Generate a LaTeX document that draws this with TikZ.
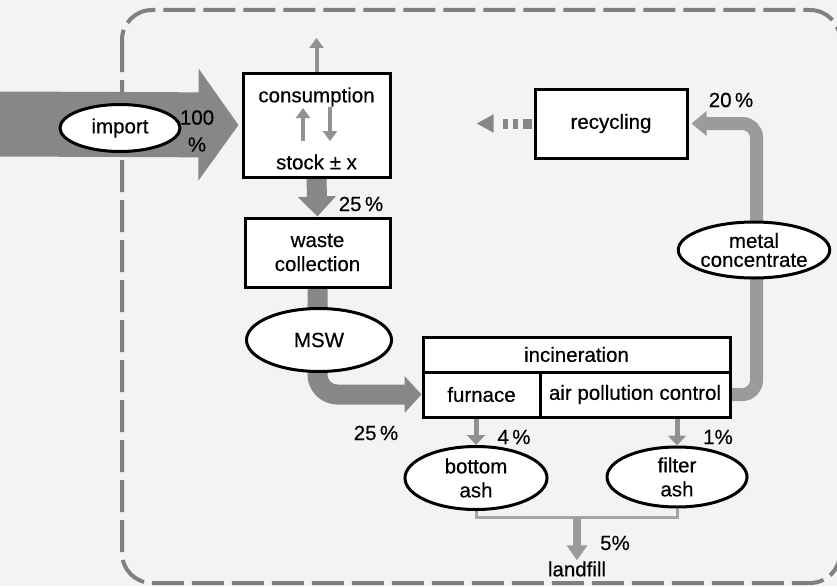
\documentclass[tikz,border=0pt]{standalone}
\usepackage{fontspec}
\setmainfont[FakeBold=0.4]{Liberation Sans}
\usetikzlibrary{shapes.geometric,arrows.meta,backgrounds,calc}
\definecolor{cBg}{RGB}{243,243,243}
\definecolor{cFlow}{RGB}{135,135,135}
\definecolor{cFlowLight}{RGB}{155,155,155}
\definecolor{cThin}{RGB}{145,145,145}
\definecolor{cAsh}{RGB}{165,165,165}
\definecolor{cBorder}{RGB}{128,128,128}
\begin{document}
\begin{tikzpicture}[x=1pt,y=-1pt,
  font=\fontsize{20.5}{24}\selectfont,
  box/.style={draw=black, line width=3pt, fill=white, inner sep=0pt, align=center},
  oval/.style={ellipse, draw=black, line width=3pt, fill=white, inner sep=0pt, align=center},
  lbl/.style={inner sep=1pt, align=center},
  sysborder/.style={draw=cBorder, line width=4pt, dash pattern=on 32pt off 8pt, rounded corners=30pt},
  bigflow/.style={draw=cFlow, line width=20pt},
  loopflow/.style={draw=cFlowLight, line width=13pt, rounded corners=14pt, -{Triangle[width=24pt,length=15pt]}},
  smallarrow/.style={draw=cThin, line width=4pt, -{Triangle[width=14pt,length=10pt]}},
  medarrow/.style={draw=cThin, line width=5pt, -{Triangle[width=18pt,length=10pt]}},
  ashline/.style={draw=cAsh, line width=3pt},
  fillarrow/.style={draw=cFlowLight, line width=8pt, -{Triangle[width=20pt,length=15pt]}},
  dashflow/.style={draw=cFlow, line width=10pt, dash pattern=on 9pt off 5pt on 5pt off 5pt on 5pt off 20pt, -{Triangle[width=17pt,length=17pt]}}
]
\useasboundingbox (0,0) rectangle (837,586);

% nodes
\node[box, minimum width=147pt, minimum height=104pt] (cons) at (316.5,125) {};
\node[lbl] (constxt) at (316.5,97) {consumption};
\node[lbl] (stock) at (316.5,162) {stock ± x};
\node[box, minimum width=145pt, minimum height=69pt] (waste) at (317.5,252.5) {waste\\collection};
\node[oval, minimum width=145pt, minimum height=63pt] (msw) at (319,340) {MSW};
\node[box, minimum width=307pt, minimum height=35pt] (inc) at (576.5,354.5) {incineration};
\node[box, minimum width=117pt, minimum height=45pt] (furn) at (481.5,394.5) {furnace};
\node[box, minimum width=190pt, minimum height=45pt] (apc) at (635,394.5) {air pollution control};
\node[box, minimum width=152pt, minimum height=69pt] (rec) at (611,123.5) {recycling};
\node[oval, minimum width=147pt, minimum height=56pt] (metal) at (754,250) {metal\\[-5pt]concentrate};
\node[oval, minimum width=142pt, minimum height=63pt] (bash) at (476,478) {bottom\\ash};
\node[oval, minimum width=140pt, minimum height=60pt] (fash) at (677,477) {filter\\ash};
\node[oval, minimum width=120pt, minimum height=47pt] (import) at (120,128) {import};
\node[lbl] (landfill) at (577,569) {landfill};

% labels
\node[lbl] (l100) at (197,131) {100\\[3pt]\%};
\node[lbl] (l25a) at (361,204) {25\,\%};
\node[lbl] (l25b) at (376,433) {25\,\%};
\node[lbl] (l20) at (731,100) {20\,\%};
\node[lbl] (l4) at (514,437) {4\,\%};
\node[lbl] (l1) at (718,437) {1\%};
\node[lbl] (l5) at (615,543) {5\%};

% coordinates
\coordinate (src) at (0,124);
\coordinate (out) at (316.5,38);
\coordinate (s1a) at (303,141);
\coordinate (s1b) at (303,108);
\coordinate (s2a) at (330,107);
\coordinate (s2b) at (330,141);
\coordinate (j) at (577,517);

% stock exchange arrows inside the consumption box
\draw[smallarrow] (s1a) -- (s1b);
\draw[smallarrow] (s2a) -- (s2b);

\begin{pgfonlayer}{background}
\fill[cBg] (0,0) rectangle (837,586);
\draw[sysborder] (122,10) rectangle (840,583);
% import flow
\draw[draw=cFlow, line width=65pt, -{Triangle[width=110pt,length=40pt]}] (src) -- ([xshift=-3pt]cons.west);
% consumption -> waste collection
\draw[bigflow, -{Triangle[width=37pt,length=20pt]}] (cons.south) -- (waste.north);
% waste collection -> incineration
\draw[bigflow, rounded corners=20pt, -{Triangle[width=36pt,length=17pt]}] (waste.south) |- (furn.west);
% metal concentrate loop
\draw[loopflow] (apc.east) -- ++(25,0) |- ([xshift=3pt]rec.east);
% recycling out
\draw[dashflow] ([xshift=-2pt]rec.west) -- ++(-55,0);
% consumption out
\draw[smallarrow] (cons.north) -- (out);
% residues
\draw[medarrow] (bash.north |- furn.south) -- (bash.north);
\draw[medarrow] (fash.north |- apc.south) -- (fash.north);
\draw[ashline] (bash.south) |- (j) -| (fash.south);
\draw[fillarrow] (j) -- (landfill.north);
\end{pgfonlayer}
\end{tikzpicture}
\end{document}
